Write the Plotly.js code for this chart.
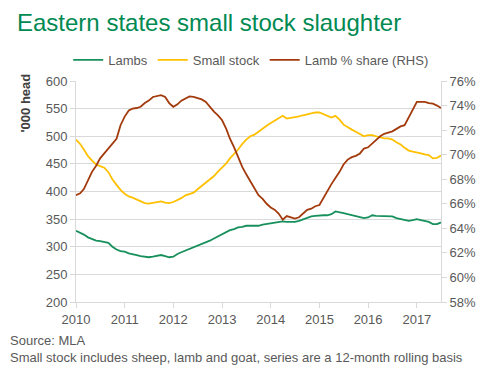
<!DOCTYPE html>
<html>
<head>
<meta charset="utf-8">
<script src="https://cdn.plot.ly/plotly-3.0.1.min.js"></script>
<style>html,body{margin:0;padding:0;background:#fff;}#chart{width:500px;height:371px;}</style>
</head>
<body>
<div id="chart"></div>
<script>
// Monthly series, Jan 2010 to Jul 2017 (12-month rolling)
var startYear = 2010, startMonth = 1, monthCount = 91;
var smallStock = [494,486,476,464,456,449,446,443,435,422,412,403,396,391,389,386,383,379,378,379,
  380,382,380,379,381,384,388,393,395,398,404,410,415,421,428,436,443,451,460,468,
  476,486,494,500,503,508,514,519,524,528,532,537,532,533,535,536,538,540,542,543,
  543,540,537,534,537,530,521,516,512,508,504,500,502,502,500,498,496,496,494,489,
  485,479,474,472,471,469,467,466,460,461,465];
var lambs = [329,326,322,317,314,311,310,309,307,300,295,292,291,288,287,285,283,282,281,282,
  283,285,283,281,282,287,290,293,296,299,302,305,307,311,315,319,323,327,330,332,
  335,336,338,338,338,338,340,341,342,343,345,346,345,345,345,347,350,353,355,356,
  357,357,357,359,364,363,361,359,357,355,353,352,353,357,356,356,355,356,355,352,
  350,348,347,348,350,348,347,345,341,341,344];
var lambShare = [66.7,66.85,67.2,67.9,68.6,69.1,69.7,70.1,70.5,70.9,71.3,72.4,73.1,73.6,73.75,73.8,73.9,74.2,74.4,74.7,
  74.8,74.85,74.7,74.2,73.9,74.1,74.4,74.6,74.75,74.7,74.6,74.5,74.3,73.9,73.5,73.2,72.8,72.1,71.3,70.6,
  69.8,69.0,68.4,67.8,67.2,66.7,66.4,66.0,65.7,65.5,65.2,64.7,65.0,64.9,64.8,64.9,65.2,65.5,65.6,65.8,
  65.9,66.5,67.1,67.6,68.1,68.6,69.2,69.6,69.8,69.9,70.1,70.5,70.6,70.9,71.2,71.5,71.7,71.8,71.9,72.1,
  72.3,72.4,73.0,73.6,74.3,74.3,74.3,74.2,74.15,74.0,73.8];
var seriesNames = ['Lambs', 'Small stock', 'Lamb % share (RHS)'];
var yearTicks = ['2010','2011','2012','2013','2014','2015','2016','2017'];

var months = [];
for (var i = 0; i < monthCount; i++) {
  var m = startMonth - 1 + i;
  var y = startYear + Math.floor(m / 12);
  var mm = (m % 12) + 1;
  months.push(y + '-' + (mm < 10 ? '0' + mm : mm) + '-01');
}
var tickVals = yearTicks.map(function (t) { return t + '-01-01'; });

var font = 'Liberation Sans, Arial, sans-serif';
var grey = '#595959';
var axisLine = '#d9d9d9';

var traces = [
  {x: months, y: lambs, name: seriesNames[0], type: 'scatter', mode: 'lines',
   line: {color: '#17905C', width: 1.8}},
  {x: months, y: smallStock, name: seriesNames[1], type: 'scatter', mode: 'lines',
   line: {color: '#FFC000', width: 1.8}},
  {x: months, y: lambShare, name: seriesNames[2], type: 'scatter', mode: 'lines', yaxis: 'y2',
   line: {color: '#A33A0C', width: 1.8}}
];

var layout = {
  width: 500, height: 371,
  margin: {l: 76, r: 59, t: 81, b: 69, pad: 0},
  paper_bgcolor: '#fff', plot_bgcolor: '#fff',
  font: {family: font, size: 13, color: grey},
  title: {text: 'Eastern states small stock slaughter', x: 17 / 500, xanchor: 'left',
          y: 1 - 23 / 371, yanchor: 'middle', xref: 'container', yref: 'container',
          font: {family: font, size: 24, color: '#008A52'}},
  showlegend: true,
  legend: {orientation: 'h', x: 0.48, xanchor: 'center', y: 1 + 21 / 221, yanchor: 'middle',
           font: {family: font, size: 13, color: grey}, itemwidth: 30, bgcolor: 'rgba(0,0,0,0)'},
  xaxis: {type: 'date', range: [months[0], months[monthCount - 1]],
          tickmode: 'array', tickvals: tickVals, ticktext: yearTicks,
          showgrid: false, zeroline: false, showline: true, linecolor: axisLine, linewidth: 1,
          ticks: 'outside', ticklen: 5, tickcolor: axisLine,
          tickfont: {family: font, size: 13, color: grey}, fixedrange: true},
  yaxis: {range: [200, 600], dtick: 50, showgrid: true, gridcolor: axisLine, gridwidth: 1,
          zeroline: false, showline: true, linecolor: axisLine, linewidth: 1,
          ticks: 'outside', ticklen: 5, tickcolor: axisLine,
          tickfont: {family: font, size: 13, color: grey}, fixedrange: true},
  yaxis2: {range: [58, 76], dtick: 2, ticksuffix: '%', overlaying: 'y', side: 'right',
           showgrid: false, zeroline: false, showline: true, linecolor: axisLine, linewidth: 1,
           ticks: 'outside', ticklen: 5, tickcolor: axisLine,
           tickfont: {family: font, size: 13, color: grey}, fixedrange: true},
  annotations: [
    {text: "<b>'000 head</b>", textangle: -90, xref: 'paper', yref: 'paper',
     x: (25 - 76) / 365, y: 1 + 9 / 221, xanchor: 'center', yanchor: 'top', showarrow: false,
     font: {family: font, size: 13, color: '#404040'}},
    {text: 'Source: MLA', xref: 'paper', yref: 'paper', x: (8 - 76) / 365, y: (302 - 340) / 221,
     xanchor: 'left', yanchor: 'middle', showarrow: false, font: {family: font, size: 13, color: grey}},
    {text: 'Small stock includes sheep, lamb and goat, series are a 12-month rolling basis',
     xref: 'paper', yref: 'paper', x: (8 - 76) / 365, y: (302 - 357) / 221,
     xanchor: 'left', yanchor: 'middle', showarrow: false, font: {family: font, size: 13, color: grey}}
  ]
};

Plotly.newPlot('chart', traces, layout, {displayModeBar: false, staticPlot: true});
</script>
</body>
</html>
